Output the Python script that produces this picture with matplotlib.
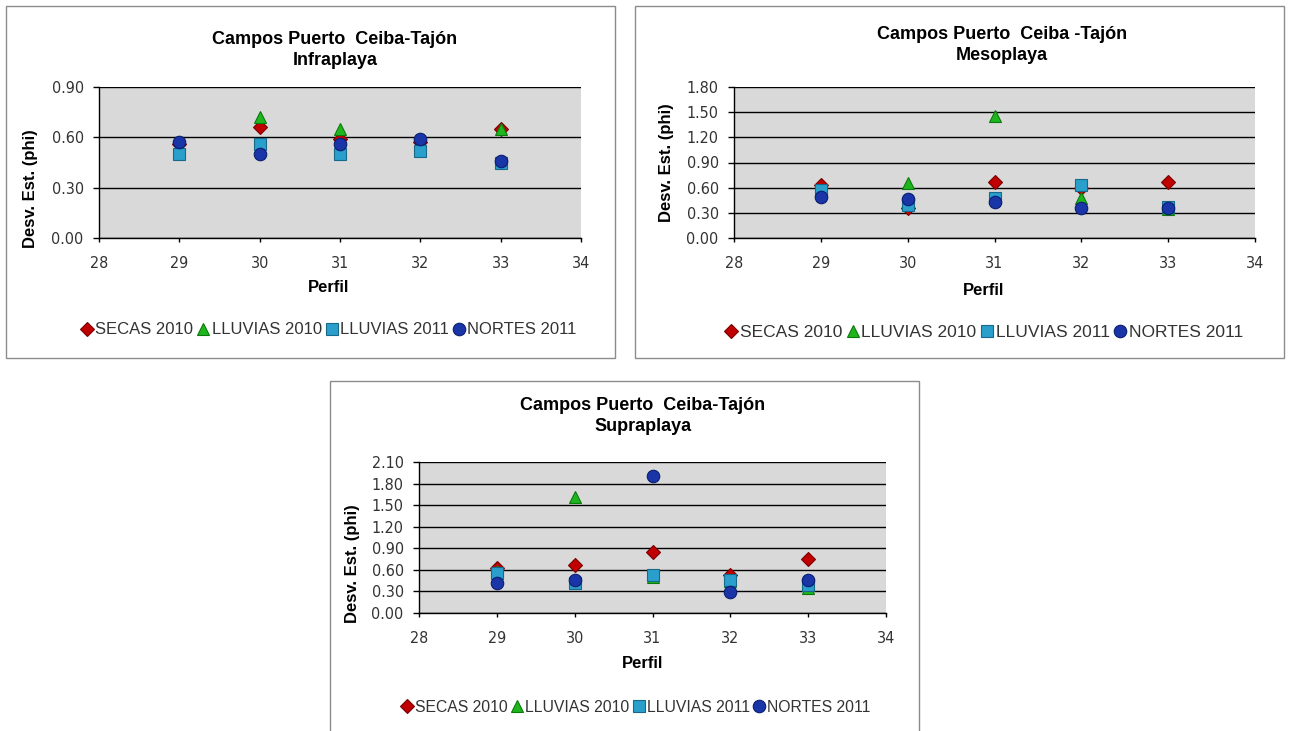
import matplotlib
matplotlib.use("Agg")
import matplotlib.pyplot as plt
from matplotlib.patches import Rectangle
from matplotlib.ticker import FormatStrFormatter

# values
perfil = [29, 30, 31, 32, 33]
series_names = ["SECAS 2010", "LLUVIAS 2010", "LLUVIAS 2011", "NORTES 2011"]

infra_secas = [0.56, 0.66, 0.59, 0.57, 0.65]
infra_lluvias10 = [0.54, 0.72, 0.65, 0.56, 0.65]
infra_lluvias11 = [0.50, 0.56, 0.50, 0.52, 0.45]
infra_nortes = [0.57, 0.50, 0.56, 0.59, 0.46]

meso_secas = [0.63, 0.36, 0.67, 0.60, 0.67]
meso_lluvias10 = [0.55, 0.66, 1.45, 0.48, 0.35]
meso_lluvias11 = [0.57, 0.39, 0.48, 0.63, 0.37]
meso_nortes = [0.49, 0.46, 0.43, 0.36, 0.36]

supra_secas = [0.62, 0.67, 0.85, 0.53, 0.75]
supra_lluvias10 = [0.58, 1.62, 0.50, 0.45, 0.35]
supra_lluvias11 = [0.56, 0.42, 0.53, 0.46, 0.39]
supra_nortes = [0.42, 0.46, 1.90, 0.29, 0.46]

titles = ["Campos Puerto  Ceiba-Tajón\nInfraplaya",
          "Campos Puerto  Ceiba -Tajón\nMesoplaya",
          "Campos Puerto  Ceiba-Tajón\nSupraplaya"]
ymax = [0.9, 1.8, 2.1]

# marker styles: (marker, size, face, edge)
styles = [("D", 7, "#C00000", "#7A0000"),
          ("^", 9, "#1FB51F", "#0A7A0A"),
          ("s", 8.5, "#2A9FCC", "#17698A"),
          ("o", 9, "#1A35A8", "#0A1E70")]

W, H = 1289, 731
fig = plt.figure(figsize=(W / 100, H / 100), dpi=100)

sans = ["Liberation Sans", "DejaVu Sans"]


def px_axes(l, t, r, b):
    return fig.add_axes([l / W, 1 - b / H, (r - l) / W, (b - t) / H])


def chart(box, plot, title, title_xy, ylab_xy, xlab_xy, leg_xy, leg_size, top, data):
    # outer chart frame
    bl, bt, br, bb = box
    fig.patches.append(Rectangle((bl / W, 1 - bb / H), (br - bl) / W, (bb - bt) / H,
                                 transform=fig.transFigure, fill=False,
                                 edgecolor="#8C8C8C", linewidth=1.0))
    ax = px_axes(*plot)
    ax.set_facecolor("#D9D9D9")
    ax.set_xlim(28, 34)
    ax.set_ylim(0, top)
    ax.set_xticks(range(28, 35))
    yt = [round(0.3 * i, 2) for i in range(int(round(top / 0.3)) + 1)]
    ax.set_yticks(yt)
    ax.yaxis.set_major_formatter(FormatStrFormatter("%.2f"))
    ax.grid(axis="y", color="black", linewidth=1.0)
    ax.set_axisbelow(True)
    for s in ["top", "right"]:
        ax.spines[s].set_visible(False)
    for s in ["left", "bottom"]:
        ax.spines[s].set_color("black")
        ax.spines[s].set_linewidth(1.0)
    ax.tick_params(axis="x", direction="out", length=3, width=1, pad=10,
                   labelsize=11.5, labelcolor="#333333")
    ax.tick_params(axis="y", direction="out", length=4, width=1, pad=7,
                   labelsize=11.5, labelcolor="#333333")
    for lab in ax.get_xticklabels() + ax.get_yticklabels():
        lab.set_family("DejaVu Sans")
        lab.set_stretch("condensed")

    handles = []
    for vals, name, (m, ms, fc, ec) in zip(data, series_names, styles):
        h, = ax.plot(perfil, vals, linestyle="none", marker=m, markersize=ms,
                     markerfacecolor=fc, markeredgecolor=ec, markeredgewidth=0.8,
                     clip_on=False, zorder=3, label=name)
        handles.append(h)

    fig.text(title_xy[0] / W, 1 - title_xy[1] / H, title, ha="center", va="center",
             fontsize=13, fontweight="bold", family=sans, linespacing=1.3)
    fig.text(ylab_xy[0] / W, 1 - ylab_xy[1] / H, "Desv. Est. (phi)", rotation=90,
             ha="center", va="center", fontsize=12, fontweight="bold", family=sans)
    fig.text(xlab_xy[0] / W, 1 - xlab_xy[1] / H, "Perfil", ha="center", va="center",
             fontsize=12, fontweight="bold", family=sans)
    fig.legend(handles=handles, loc="center",
               bbox_to_anchor=(leg_xy[0] / W, 1 - leg_xy[1] / H),
               ncol=4, frameon=False, handlelength=0.7, handletextpad=0.15,
               columnspacing=0.25, borderpad=0,
               prop={"family": sans, "size": leg_size}, labelcolor="#333333")
    return ax


chart((6, 6, 615, 358), (99, 87, 581, 238), titles[0], (335, 50), (30, 189),
      (329, 288), (329, 330), 12, ymax[0],
      [infra_secas, infra_lluvias10, infra_lluvias11, infra_nortes])

chart((635, 6, 1284, 358), (734, 87, 1255, 238), titles[1], (1002, 45), (667, 163),
      (984, 290), (984, 332), 12.5, ymax[1],
      [meso_secas, meso_lluvias10, meso_lluvias11, meso_nortes])

chart((330, 381, 919, 740), (419, 462, 886, 613), titles[2], (643, 416), (353, 564),
      (643, 663), (636, 707), 11.3, ymax[2],
      [supra_secas, supra_lluvias10, supra_lluvias11, supra_nortes])

fig.savefig("out.png", dpi=100)
